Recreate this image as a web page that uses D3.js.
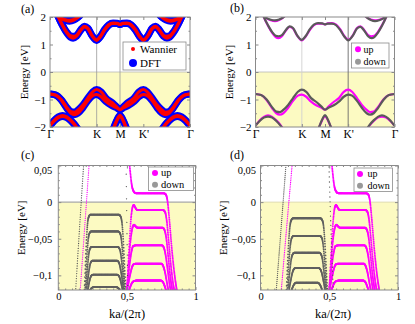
<!DOCTYPE html>
<html>
<head>
<meta charset="utf-8">
<script src="https://cdn.jsdelivr.net/npm/d3@7"></script>
<style>
  body { margin: 0; background: #fff; }
  svg { display: block; }
  svg text { font-family: "Liberation Serif", "DejaVu Serif", "Times New Roman", serif; }
</style>
</head>
<body>
<svg id="chart" width="415" height="324"></svg>
<script>
// band structures: bulk (a, b) and ribbon (c, d)

// ---- bulk data: k along the path Γ-K-M-K'-Γ (0..1), energies in eV
const symLabels = ["Γ", "K", "M", "K'", "Γ"];
const symPos = [0, 0.3333, 0.5, 0.6667, 1];
const bulkTicksY = [-2, -1, 0, 1, 2];

const condUp = [[0.04,2.25],[0.06,2.0],[0.09,1.68],[0.12,1.42],[0.145,1.27],[0.165,1.23],[0.19,1.3],[0.22,1.52],[0.245,1.64],[0.27,1.58],[0.3,1.32],[0.333,1.15],[0.36,1.28],[0.39,1.52],[0.42,1.7],[0.45,1.76],[0.48,1.76],[0.5,1.73],[0.52,1.77],[0.55,1.78],[0.58,1.72],[0.61,1.55],[0.64,1.3],[0.667,1.17],[0.7,1.33],[0.73,1.6],[0.755,1.66],[0.78,1.54],[0.81,1.34],[0.835,1.3],[0.855,1.32],[0.88,1.45],[0.91,1.7],[0.94,2.0],[0.96,2.25]];
const condDown = [[0.04,2.25],[0.06,2.0],[0.09,1.7],[0.12,1.45],[0.145,1.32],[0.165,1.3],[0.19,1.34],[0.22,1.54],[0.245,1.66],[0.27,1.6],[0.3,1.33],[0.333,1.17],[0.36,1.3],[0.39,1.55],[0.42,1.72],[0.45,1.78],[0.48,1.77],[0.5,1.73],[0.52,1.76],[0.55,1.76],[0.58,1.7],[0.61,1.52],[0.64,1.28],[0.667,1.15],[0.7,1.32],[0.73,1.58],[0.755,1.64],[0.78,1.52],[0.81,1.3],[0.835,1.23],[0.855,1.27],[0.88,1.42],[0.91,1.68],[0.94,2.0],[0.96,2.25]];
const highUp = [[[0.05,2.08],[0.08,1.95],[0.11,1.88],[0.14,1.85],[0.17,1.89],[0.2,1.99],[0.22,2.08]],
                [[0.78,2.08],[0.8,1.99],[0.83,1.91],[0.86,1.88],[0.89,1.9],[0.92,1.96],[0.95,2.08]]];
const highDown = [[[0.05,2.08],[0.08,1.96],[0.11,1.9],[0.14,1.88],[0.17,1.91],[0.2,1.99],[0.22,2.08]],
                  [[0.78,2.08],[0.8,1.99],[0.83,1.89],[0.86,1.85],[0.89,1.88],[0.92,1.95],[0.95,2.08]]];
const valUp = [[0,-0.8],[0.04,-0.84],[0.08,-1.02],[0.12,-1.32],[0.15,-1.5],[0.175,-1.55],[0.2,-1.5],[0.235,-1.3],[0.27,-1.05],[0.305,-0.86],[0.333,-0.82],[0.365,-0.9],[0.4,-1.08],[0.44,-1.22],[0.475,-1.3],[0.5,-1.37],[0.525,-1.26],[0.56,-1.1],[0.6,-0.95],[0.635,-0.72],[0.667,-0.64],[0.695,-0.72],[0.73,-0.95],[0.765,-1.2],[0.8,-1.38],[0.825,-1.46],[0.85,-1.44],[0.885,-1.25],[0.92,-1.0],[0.96,-0.84],[1,-0.8]];
const valDown = [[0,-0.8],[0.04,-0.84],[0.08,-1.0],[0.115,-1.25],[0.15,-1.44],[0.175,-1.46],[0.2,-1.38],[0.235,-1.2],[0.27,-0.95],[0.305,-0.72],[0.333,-0.64],[0.365,-0.72],[0.4,-0.95],[0.44,-1.1],[0.475,-1.26],[0.5,-1.37],[0.525,-1.3],[0.56,-1.22],[0.6,-1.08],[0.635,-0.9],[0.667,-0.82],[0.695,-0.86],[0.73,-1.05],[0.765,-1.3],[0.8,-1.5],[0.825,-1.55],[0.85,-1.5],[0.88,-1.32],[0.92,-1.02],[0.96,-0.84],[1,-0.8]];
const lowUp = [[[0,-1.95],[0.03,-1.76],[0.06,-1.63],[0.09,-1.58],[0.12,-1.63],[0.15,-1.76],[0.18,-1.93],[0.2,-2.08]],
               [[0.8,-2.08],[0.82,-1.95],[0.85,-1.78],[0.88,-1.66],[0.91,-1.62],[0.94,-1.66],[0.97,-1.78],[1,-1.95]],
               [[0.45,-2.1],[0.47,-1.86],[0.485,-1.7],[0.5,-1.6],[0.515,-1.7],[0.53,-1.86],[0.55,-2.1]]];
const lowDown = [[[0,-1.95],[0.03,-1.78],[0.06,-1.66],[0.09,-1.62],[0.12,-1.66],[0.15,-1.78],[0.18,-1.95],[0.2,-2.08]],
                 [[0.8,-2.08],[0.82,-1.93],[0.85,-1.76],[0.88,-1.63],[0.91,-1.58],[0.94,-1.63],[0.97,-1.76],[1,-1.95]],
                 [[0.45,-2.1],[0.47,-1.84],[0.485,-1.67],[0.5,-1.57],[0.515,-1.67],[0.53,-1.84],[0.55,-2.1]]];

const bulkUp = [condUp, valUp, ...highUp, ...lowUp];
const bulkDown = [condDown, valDown, ...highDown, ...lowDown];

// ---- ribbon data: k in units of 2π/a, energies in eV
const ribbonTicksY = [-0.1, -0.05, 0, 0.05];
const ribbonTicksX = [0, 0.5, 1];

// spin down, flat levels of panel (c)
const ribbonDownC = [
  [[0.19,-0.125],[0.198,-0.085],[0.206,-0.05],[0.213,-0.03],[0.222,-0.02],[0.235,-0.017],[0.44,-0.017],[0.455,-0.02],[0.465,-0.03],[0.473,-0.05],[0.482,-0.085],[0.492,-0.125]],
  [[0.194,-0.125],[0.202,-0.095],[0.21,-0.07],[0.217,-0.053],[0.226,-0.043],[0.24,-0.040],[0.436,-0.040],[0.451,-0.043],[0.461,-0.053],[0.469,-0.07],[0.477,-0.095],[0.487,-0.125]],
  [[0.198,-0.125],[0.206,-0.104],[0.214,-0.087],[0.221,-0.073],[0.23,-0.064],[0.244,-0.061],[0.432,-0.061],[0.447,-0.064],[0.457,-0.073],[0.465,-0.087],[0.473,-0.104],[0.482,-0.125]],
  [[0.203,-0.125],[0.211,-0.111],[0.219,-0.1],[0.226,-0.091],[0.235,-0.083],[0.249,-0.080],[0.428,-0.080],[0.443,-0.083],[0.453,-0.091],[0.461,-0.1],[0.469,-0.111],[0.478,-0.125]],
  [[0.209,-0.125],[0.218,-0.117],[0.226,-0.109],[0.234,-0.103],[0.243,-0.1],[0.256,-0.099],[0.424,-0.099],[0.438,-0.1],[0.447,-0.103],[0.456,-0.109],[0.465,-0.117],[0.474,-0.125]],
  [[0.22,-0.125],[0.232,-0.12],[0.245,-0.117],[0.262,-0.116],[0.418,-0.116],[0.435,-0.117],[0.448,-0.12],[0.461,-0.125]]
];
// spin down, flat levels of panel (d)
const ribbonDownD = [
  [[0.188,-0.125],[0.196,-0.088],[0.205,-0.055],[0.213,-0.035],[0.223,-0.025],[0.238,-0.022],[0.435,-0.022],[0.45,-0.025],[0.46,-0.035],[0.468,-0.055],[0.477,-0.088],[0.487,-0.125]],
  [[0.193,-0.125],[0.201,-0.098],[0.209,-0.076],[0.217,-0.059],[0.227,-0.049],[0.242,-0.046],[0.431,-0.046],[0.446,-0.049],[0.456,-0.059],[0.464,-0.076],[0.472,-0.098],[0.482,-0.125]],
  [[0.198,-0.125],[0.206,-0.107],[0.214,-0.093],[0.222,-0.08],[0.232,-0.072],[0.247,-0.069],[0.427,-0.069],[0.442,-0.072],[0.452,-0.08],[0.46,-0.093],[0.468,-0.107],[0.477,-0.125]],
  [[0.204,-0.125],[0.213,-0.114],[0.222,-0.105],[0.231,-0.097],[0.241,-0.092],[0.255,-0.090],[0.422,-0.090],[0.436,-0.092],[0.446,-0.097],[0.455,-0.105],[0.464,-0.114],[0.472,-0.125]],
  [[0.215,-0.125],[0.228,-0.119],[0.242,-0.113],[0.26,-0.110],[0.415,-0.110],[0.433,-0.113],[0.447,-0.119],[0.46,-0.125]]
];
// spin up, flat levels (same in c and d)
const ribbonUp = [
  [[0.515,0.06],[0.525,0.04],[0.535,0.024],[0.547,0.0155],[0.565,0.0122],[0.6,0.012],[0.77,0.012],[0.785,0.01],[0.797,0.0],[0.81,-0.025],[0.828,-0.065],[0.848,-0.1],[0.868,-0.125]],
  [[0.5,-0.125],[0.51,-0.085],[0.52,-0.05],[0.53,-0.022],[0.541,-0.007],[0.55,-0.004],[0.56,-0.007],[0.573,-0.0105],[0.6,-0.011],[0.765,-0.011],[0.779,-0.014],[0.79,-0.025],[0.803,-0.05],[0.82,-0.085],[0.84,-0.115],[0.852,-0.125]],
  [[0.497,-0.125],[0.508,-0.095],[0.519,-0.068],[0.53,-0.047],[0.542,-0.034],[0.552,-0.031],[0.563,-0.033],[0.578,-0.035],[0.76,-0.035],[0.774,-0.038],[0.786,-0.048],[0.799,-0.07],[0.815,-0.1],[0.836,-0.125]],
  [[0.496,-0.125],[0.508,-0.105],[0.52,-0.085],[0.533,-0.068],[0.546,-0.06],[0.568,-0.059],[0.755,-0.059],[0.769,-0.062],[0.781,-0.071],[0.794,-0.088],[0.808,-0.108],[0.822,-0.125]],
  [[0.498,-0.125],[0.512,-0.11],[0.526,-0.097],[0.539,-0.088],[0.553,-0.0845],[0.575,-0.084],[0.75,-0.084],[0.764,-0.087],[0.777,-0.095],[0.79,-0.108],[0.806,-0.125]],
  [[0.505,-0.125],[0.52,-0.118],[0.535,-0.111],[0.55,-0.108],[0.575,-0.107],[0.745,-0.107],[0.762,-0.109],[0.776,-0.115],[0.792,-0.125]]
];
// steep edge bands
const edgeDownC = [[[0.125,-0.125],[0.155,-0.035],[0.186,0.055]], [[0.494,0.055],[0.5,-0.035],[0.507,-0.125]]];
const edgeUpC = [[[0.158,-0.125],[0.192,-0.035],[0.226,0.055]]];
const edgeDownD = [[[0.113,-0.125],[0.15,-0.035],[0.187,0.055]], [[0.497,0.055],[0.512,-0.035],[0.53,-0.125]]];
const edgeUpD = [[[0.149,-0.125],[0.19,-0.035],[0.232,0.055]]];

// ---- styles
const svg = d3.select("#chart");
const yellow = "#fcfac2";
const magenta = "#ff00ff";
const darkGray = "#5a5a5a";
const frameGray = "#8a8a8a";

function setupPanel(p) {
  const x = d3.scaleLinear().domain(p.xDomain).range([p.left, p.right]);
  const y = d3.scaleLinear().domain(p.yDomain).range([p.bottom, p.top]);
  const g = svg.append("g");
  g.append("clipPath").attr("id", "clip-" + p.id)
    .append("rect")
    .attr("x", p.left).attr("y", p.top)
    .attr("width", p.right - p.left).attr("height", p.bottom - p.top);
  g.append("rect")
    .attr("x", p.left).attr("y", y(0))
    .attr("width", p.right - p.left).attr("height", p.bottom - y(0))
    .attr("fill", yellow);
  g.append("line")
    .attr("x1", p.left).attr("x2", p.right)
    .attr("y1", y(0)).attr("y2", y(0))
    .attr("stroke", p.zeroColor).attr("stroke-width", p.zeroWidth);
  const plot = g.append("g").attr("clip-path", `url(#clip-${p.id})`);
  return { p, x, y, g, plot };
}

function lineGen(P) {
  return d3.line()
    .x(d => P.x(d[0]))
    .y(d => P.y(d[1]))
    .curve(d3.curveMonotoneX);
}

function drawBands(P, bands, color, width) {
  P.plot.append("g")
    .selectAll("path")
    .data(bands)
    .join("path")
    .attr("d", lineGen(P))
    .attr("fill", "none")
    .attr("stroke", color)
    .attr("stroke-width", width);
}

// ribbon bands are plotted as points on an even k grid,
// so steep parts come out dotted like in the original
function drawBandDots(P, bands, color, r, dx) {
  const gen = lineGen(P);
  const tmp = P.g.append("path").attr("fill", "none");
  const pts = [];
  bands.forEach(b => {
    tmp.attr("d", gen(b));
    const node = tmp.node();
    const L = node.getTotalLength();
    let next = -Infinity;
    for (let s = 0; s <= L; s += 0.12) {
      const pt = node.getPointAtLength(s);
      if (pt.x >= next) {
        pts.push([pt.x, pt.y]);
        next = pt.x + dx;
      }
    }
  });
  tmp.remove();
  P.plot.append("g")
    .selectAll("circle")
    .data(pts)
    .join("circle")
    .attr("cx", d => d[0])
    .attr("cy", d => d[1])
    .attr("r", r)
    .attr("fill", color);
}

function styleAxis(sel, fontSize) {
  sel.attr("font-family", null).attr("font-size", null);
  sel.select(".domain").remove();
  sel.selectAll("line").attr("stroke", frameGray);
  sel.selectAll("text").attr("fill", "#000").style("font-size", fontSize + "px");
}

function drawFrame(P, o) {
  const { p, x, y, g } = P;
  const fs = o.fontSize;
  g.append("g").attr("transform", `translate(${p.left},0)`)
    .call(d3.axisLeft(y).tickValues(o.yTicks).tickSize(-3).tickPadding(o.yPad).tickFormat(o.yFmt))
    .call(s => styleAxis(s, fs));
  g.append("g").attr("transform", `translate(${p.left},0)`)
    .call(d3.axisLeft(y).tickValues(o.yMinor).tickSize(-1.5).tickFormat(""))
    .call(s => styleAxis(s, fs));
  g.append("g").attr("transform", `translate(${p.right},0)`)
    .call(d3.axisRight(y).tickValues(o.yTicks).tickSize(-3).tickFormat(""))
    .call(s => styleAxis(s, fs));
  g.append("g").attr("transform", `translate(${p.right},0)`)
    .call(d3.axisRight(y).tickValues(o.yMinor).tickSize(-1.5).tickFormat(""))
    .call(s => styleAxis(s, fs));
  g.append("g").attr("transform", `translate(0,${p.bottom})`)
    .call(d3.axisBottom(x).tickValues(o.xTicks).tickSize(-3).tickPadding(o.xPad).tickFormat(o.xFmt))
    .call(s => styleAxis(s, o.xFontSize));
  g.append("g").attr("transform", `translate(0,${p.top})`)
    .call(d3.axisTop(x).tickValues(o.xTicks).tickSize(-3).tickFormat(""))
    .call(s => styleAxis(s, fs));
  if (o.xMinor) {
    g.append("g").attr("transform", `translate(0,${p.bottom})`)
      .call(d3.axisBottom(x).tickValues(o.xMinor).tickSize(-1.5).tickFormat(""))
      .call(s => styleAxis(s, fs));
    g.append("g").attr("transform", `translate(0,${p.top})`)
      .call(d3.axisTop(x).tickValues(o.xMinor).tickSize(-1.5).tickFormat(""))
      .call(s => styleAxis(s, fs));
  }
  g.append("rect")
    .attr("x", p.left).attr("y", p.top)
    .attr("width", p.right - p.left).attr("height", p.bottom - p.top)
    .attr("fill", "none").attr("stroke", frameGray).attr("stroke-width", 1);
  // y title
  g.append("text")
    .attr("transform", `translate(${o.titleX},${(p.top + p.bottom) / 2}) rotate(-90)`)
    .attr("text-anchor", "middle")
    .style("font-size", "11px")
    .text("Energy [eV]");
  // panel letter
  g.append("text")
    .attr("x", o.letterX).attr("y", o.letterY)
    .style("font-size", "12px")
    .text(o.letter);
}

function drawLegend(P, box, entries, fontSize) {
  const lg = P.g.append("g");
  lg.append("rect")
    .attr("x", box[0]).attr("y", box[1]).attr("width", box[2]).attr("height", box[3])
    .attr("fill", "#fff").attr("stroke", frameGray).attr("stroke-width", 0.8);
  const rowH = box[3] / entries.length;
  entries.forEach((e, i) => {
    const cy = box[1] + rowH * (i + 0.5);
    lg.append("circle").attr("cx", box[0] + box[4]).attr("cy", cy).attr("r", e.r).attr("fill", e.color);
    lg.append("text").attr("x", box[0] + box[5]).attr("y", cy).attr("dy", "0.33em")
      .style("font-size", fontSize + "px").text(e.label);
  });
}

const minus = s => s.replace("-", "−");
const commaFmt = d => minus(String(d).replace(".", ","));

// ---- (a) Wannier vs DFT
const A = setupPanel({ id: "a", left: 50, right: 190, top: 17, bottom: 127, xDomain: [0, 1], yDomain: [-2, 2], zeroColor: "#b8b8b8", zeroWidth: 0.8 });
["K", "M"].forEach(lbl => {
  const k = symPos[symLabels.indexOf(lbl)];
  A.plot.append("line").attr("x1", A.x(k)).attr("x2", A.x(k))
    .attr("y1", A.p.top).attr("y2", A.p.bottom)
    .attr("stroke", "#9a9a9a").attr("stroke-width", 0.8);
});
drawBands(A, bulkUp.concat(bulkDown), "#0000ff", 7);
drawBands(A, bulkUp.concat(bulkDown), "#ff0000", 3);

// ---- (b) spin resolved
const B = setupPanel({ id: "b", left: 255.5, right: 394.5, top: 17, bottom: 127, xDomain: [0, 1], yDomain: [-2, 2], zeroColor: "#b8b8b8", zeroWidth: 0.8 });
[["K", "#d0d0d0"], ["K'", "#6a6a6a"]].forEach(([lbl, c]) => {
  const k = symPos[symLabels.lastIndexOf(lbl)];
  B.plot.append("line").attr("x1", B.x(k)).attr("x2", B.x(k))
    .attr("y1", B.p.top).attr("y2", B.p.bottom)
    .attr("stroke", c).attr("stroke-width", 0.9);
});
drawBands(B, bulkUp, magenta, 2.2);
drawBands(B, bulkDown, darkGray, 2.2);

const bulkFrame = {
  yTicks: bulkTicksY, yMinor: [-1.5, -0.5, 0.5, 1.5], yFmt: d => minus(String(d)), yPad: 4,
  xTicks: symPos, xFmt: (d, i) => symLabels[i], xPad: 2.5,
  fontSize: 11, xFontSize: 11.5
};
drawFrame(A, { ...bulkFrame, titleX: 28, letter: "(a)", letterX: 21, letterY: 13 });
drawFrame(B, { ...bulkFrame, titleX: 233, letter: "(b)", letterX: 230, letterY: 12 });
drawLegend(A, [123, 42, 63, 28, 10, 17], [
  { label: "Wannier", color: "#ff0000", r: 2 },
  { label: "DFT", color: "#0000ff", r: 4 }
], 11);
drawLegend(B, [351.5, 43, 37.5, 25, 6.5, 12], [
  { label: "up", color: magenta, r: 3 },
  { label: "down", color: "#999", r: 3 }
], 10);

// ---- (c), (d) ribbons
const C = setupPanel({ id: "c", left: 58.3, right: 195.5, top: 165.5, bottom: 290, xDomain: [0, 1], yDomain: [-0.12, 0.05], zeroColor: "#a8a8a8", zeroWidth: 1.4 });
const D = setupPanel({ id: "d", left: 260.5, right: 398, top: 165.5, bottom: 290, xDomain: [0, 1], yDomain: [-0.12, 0.05], zeroColor: "#d8d4a8", zeroWidth: 0.8 });

drawBandDots(C, ribbonDownC, "#606060", 0.9, 0.15);
drawBandDots(C, ribbonUp, magenta, 0.95, 0.15);
drawBandDots(C, edgeDownC, "#555", 0.65, 0.15);
drawBandDots(C, edgeUpC, magenta, 0.65, 0.15);

drawBandDots(D, ribbonDownD, "#606060", 0.9, 0.15);
drawBandDots(D, ribbonUp, magenta, 0.95, 0.15);
drawBandDots(D, edgeDownD, "#555", 0.65, 0.15);
drawBandDots(D, edgeUpD, magenta, 0.65, 0.15);

const ribbonFrame = {
  yTicks: ribbonTicksY, yMinor: d3.range(-0.11, 0.05, 0.01).filter(v => Math.abs(v * 100 % 5) > 0.01),
  yFmt: commaFmt, xTicks: ribbonTicksX, xMinor: d3.range(0.05, 1, 0.05).filter(v => Math.abs(v - 0.5) > 0.01),
  xFmt: commaFmt, xPad: 3, fontSize: 10.5, xFontSize: 10.5
};
drawFrame(C, { ...ribbonFrame, yPad: 6, titleX: 25, letter: "(c)", letterX: 21, letterY: 159 });
drawFrame(D, { ...ribbonFrame, yPad: 4.5, titleX: 227, letter: "(d)", letterX: 230, letterY: 159 });

// nudge the top tick label down, as in the original
[C, D].forEach(P => {
  P.g.selectAll(".tick text").filter(d => d === 0.05).attr("dy", "0.75em");
});

drawLegend(C, [148.5, 167, 45, 23.5, 6.5, 12.5], [
  { label: "up", color: magenta, r: 3 },
  { label: "down", color: "#999", r: 3 }
], 10.5);
drawLegend(D, [354, 168, 38.5, 23.5, 6, 13.5], [
  { label: "up", color: magenta, r: 3 },
  { label: "down", color: "#999", r: 3 }
], 10);

[[C, 127], [D, 333]].forEach(([P, cx]) => {
  P.g.append("text").attr("x", cx).attr("y", 318)
    .attr("text-anchor", "middle").style("font-size", "12.5px")
    .text("ka/(2π)");
});
</script>
</body>
</html>
